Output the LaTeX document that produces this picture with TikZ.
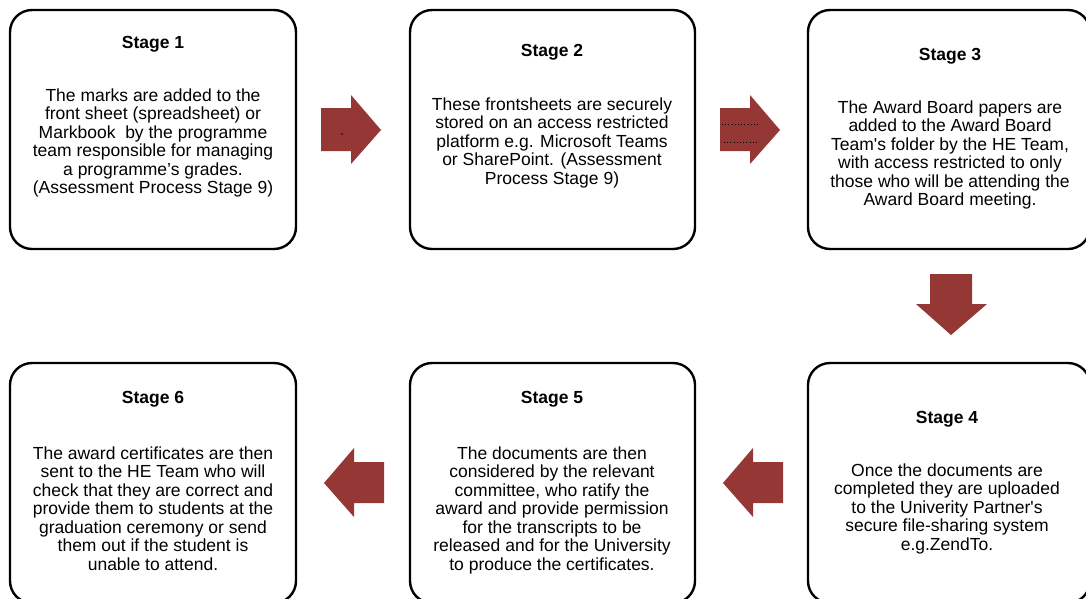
\documentclass[tikz,border=0pt]{standalone}
\usepackage{fontspec}
\setmainfont{Liberation Sans}
\definecolor{arrowred}{HTML}{953735}
\begin{document}
\begin{tikzpicture}[x=1pt,y=-1pt,
  stagebox/.style={draw=black, line width=2.4pt, rounded corners=22pt},
  ttl/.style={anchor=base, inner sep=0pt, font=\fontsize{17.5}{18.5}\selectfont\bfseries},
  body/.style={anchor=base, inner sep=0pt, align=center, font=\fontsize{17.5}{18.5}\selectfont},
  blockarrow/.style={fill=arrowred, draw=none}]
\useasboundingbox (0,0) rectangle (1086,598);
\fill[white] (0,0) rectangle (1086,598);
% boxes
\draw[stagebox] (10,10) rectangle (296,249) coordinate (b1);
\draw[stagebox] (410,10) rectangle (695,249) coordinate (b2);
\draw[stagebox] (808,10) rectangle (1090,249) coordinate (b3);
\draw[stagebox] (808,363) rectangle (1090,603) coordinate (b4);
\draw[stagebox] (410,363) rectangle (695,603) coordinate (b5);
\draw[stagebox] (10,363) rectangle (296,603) coordinate (b6);
% titles
\node[ttl] (t1) at (153,48) {Stage 1};
\node[ttl] (t2) at (552,56) {Stage 2};
\node[ttl] (t3) at (950,60) {Stage 3};
\node[ttl] (t4) at (947,423) {Stage 4};
\node[ttl] (t5) at (552,403) {Stage 5};
\node[ttl] (t6) at (153,403) {Stage 6};
% bodies (anchor = baseline of the last line)
\node[body] (x1) at (153,193.5) {The marks are added to the\\front sheet (spreadsheet) or\\Markbook\ \ by the programme\\team responsible for managing\\a programme’s grades.\\(Assessment Process Stage 9)};
\node[body] (x2) at (552,184) {These frontsheets are securely\\stored on an access restricted\\platform e.g. Microsoft Teams\\or SharePoint. (Assessment\\Process Stage 9)};
\node[body] (x3) at (950,205.5) {The Award Board papers are\\added to the Award Board\\Team\textquotesingle s folder by the HE Team,\\with access restricted to only\\those who will be attending the\\Award Board meeting.};
\node[body] (x4) at (947,550) {Once the documents are\\completed they are uploaded\\to the Univerity Partner\textquotesingle s\\secure file-sharing system\\e.g.ZendTo.};
\node[body] (x5) at (552,570) {The documents are then\\considered by the relevant\\committee, who ratify the\\award and provide permission\\for the transcripts to be\\released and for the University\\to produce the certificates.};
\node[body] (x6) at (153,570) {The award certificates are then\\sent to the HE Team who will\\check that they are correct and\\provide them to students at the\\graduation ceremony or send\\them out if the student is\\unable to attend.};
% block arrows
\fill[blockarrow] (321,108) -- (351,108) -- (351,95) -- (381,130) -- (351,164) -- (351,151) -- (321,151) -- cycle;
\fill[black] (342,134) circle (0.9);
\fill[blockarrow] (720,108) -- (750,108) -- (750,95) -- (780,130) -- (750,164) -- (750,151) -- (720,151) -- cycle;
\draw[black, line width=1pt, dash pattern=on 1pt off 2.2pt] (722,124) -- (760,124);
\draw[black, line width=1pt, dash pattern=on 1pt off 2.2pt] (724,142) -- (758,142);
\fill[blockarrow] (930,274) -- (972,274) -- (972,304) -- (987,304) -- (951,335) -- (916,304) -- (930,304) -- cycle;
\fill[blockarrow] (783,462) -- (753,462) -- (753,448) -- (723,483) -- (753,517) -- (753,503) -- (783,503) -- cycle;
\fill[blockarrow] (384,462) -- (354,462) -- (354,448) -- (324,483) -- (354,517) -- (354,503) -- (384,503) -- cycle;
\end{tikzpicture}
\end{document}
